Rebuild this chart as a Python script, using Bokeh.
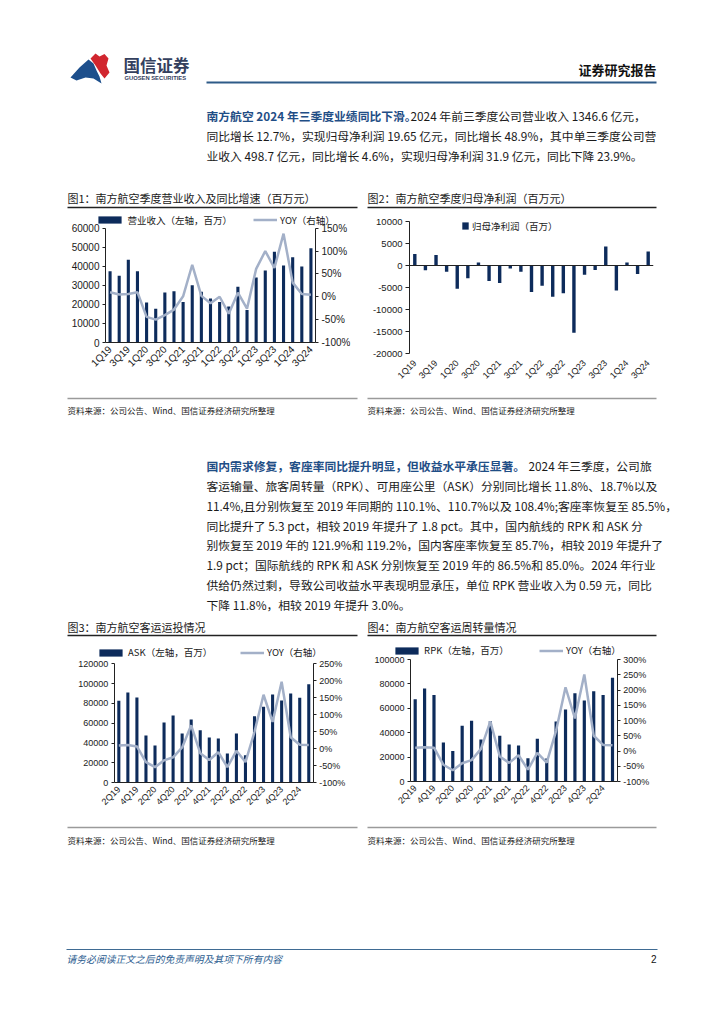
import math
from bokeh.plotting import figure
from bokeh.layouts import column, row
from bokeh.models import Range1d, LinearAxis, FixedTicker, PrintfTickFormatter, Legend, LegendItem, Span
from bokeh.core.properties import value
from bokeh.embed import file_html
from bokeh.resources import INLINE

# ---------------- data ----------------
quarters_a = ["1Q19", "2Q19", "3Q19", "4Q19", "1Q20", "2Q20", "3Q20", "4Q20", "1Q21", "2Q21", "3Q21", "4Q21",
              "1Q22", "2Q22", "3Q22", "4Q22", "1Q23", "2Q23", "3Q23", "4Q23", "1Q24", "2Q24", "3Q24"]
revenue = [37400, 35100, 43500, 37400, 21000, 17700, 26200, 26900, 21200, 30100, 26700, 23100,
           21200, 18900, 29200, 17000, 34100, 37800, 47700, 40400, 44800, 39900, 49500]
revenue_yoy = [10, 5, 6, 10, -44, -50, -40, -28, 1, 70, 2, -14,
               0, -37, 9, -26, 61, 100, 63, 138, 31, 6, 4.6]
net_profit = [2600, -1100, 2400, -1400, -5300, -2900, 700, -3500, -4000, -700, -1400, -6000,
              -4600, -7100, -6300, -15300, -2100, -1000, 4300, -5700, 680, -1920, 3190]

quarters_b = ["2Q19", "3Q19", "4Q19", "1Q20", "2Q20", "3Q20", "4Q20", "1Q21", "2Q21", "3Q21", "4Q21",
              "1Q22", "2Q22", "3Q22", "4Q22", "1Q23", "2Q23", "3Q23", "4Q23", "1Q24", "2Q24", "3Q24"]
ask = [82700, 91100, 86100, 47700, 37600, 60800, 67900, 49700, 63900, 53100, 45700,
       44700, 29600, 49700, 27900, 67200, 76600, 89100, 83000, 90100, 85700, 99500]
ask_yoy = [10, 11, 7, -39, -54, -34, -25, 4, 69, -13, -33,
           -10, -54, -6, -39, 50, 159, 79, 197, 34, 12, 11.4]
rpk = [67500, 76200, 71000, 32000, 25100, 45600, 49700, 34400, 49500, 37400, 30300,
       29500, 19100, 35000, 18900, 49200, 59000, 72400, 66400, 74000, 71000, 85000]
rpk_yoy = [11, 12, 11, -45, -63, -40, -30, 7, 97, -18, -39,
           -14, -61, -6, -38, 67, 209, 107, 251, 50, 20, 18.7]

# ---------------- styles ----------------
NAVY = "#0d2b5b"
LINE = "#a3b0c8"
CJK = "Noto Sans CJK SC"
NUM = "Liberation Sans"
INK = "#1a1a1a"


def style_axis(ax, size):
    ax.major_label_text_font = NUM
    ax.major_label_text_font_size = size
    ax.major_label_text_color = INK
    ax.axis_line_color = "#222222"
    ax.major_tick_line_color = "#222222"
    ax.minor_tick_line_color = None
    ax.major_tick_in = 0
    ax.major_tick_out = 3
    ax.major_label_standoff = 3


def make_legend(items, x, y, gw, gh, standoff):
    lg = Legend(items=items, location=(x, y), orientation="horizontal")
    lg.border_line_color = None
    lg.background_fill_alpha = 0
    lg.padding = 0
    lg.margin = 0
    lg.spacing = 0
    lg.glyph_width = gw
    lg.glyph_height = gh
    lg.label_height = 10
    lg.label_standoff = standoff
    lg.label_text_font = CJK
    lg.label_text_font_size = "9.5px"
    lg.label_text_color = INK
    return lg


def extend(vmin, vmax, frame_h, pad):
    # range end so that vmax sits `pad` pixels below the frame top
    return vmin + (vmax - vmin) * frame_h / (frame_h - pad)


def fit_range(vmin, vmax, ax_top, ax_bot, fr_top, fr_bot):
    # value range of a frame [fr_top, fr_bot] (px) whose ticks vmax/vmin sit at ax_top/ax_bot (px)
    u = (vmax - vmin) / (ax_bot - ax_top)
    return Range1d(vmin - (fr_bot - ax_bot) * u, vmax + (ax_top - fr_top) * u)


def base_fig(W, H, bl, br, bb, x_range, y_range):
    p = figure(width=W, height=H, x_range=x_range, y_range=y_range,
               output_backend="svg", toolbar_location=None,
               min_border_left=bl, min_border_right=br, min_border_top=0, min_border_bottom=bb)
    p.frame_align = False
    p.grid.visible = False
    p.outline_line_color = None
    return p


def combo_chart(cats, bars, yoy, bar_label, left_max, left_step, r_min, r_max, r_step,
                fig_x0, fig_y0, W, H, FL, FR, AL, AR, AT, AB, fs, leg_cy, leg1_px, leg2_px):
    """Page px: FL/FR frame edges, AL/AR value-axis x, AT/AB top/bottom tick y."""
    n = len(cats)
    xs = list(range(n))
    bb = 2
    fr_top, fr_bot = fig_y0, fig_y0 + H - bb
    k = n / (AR - AL)
    x0 = -0.5 - (AL - FL) * k
    x1 = n - 0.5 + (FR - AR) * k
    p = base_fig(W, H, FL - fig_x0, fig_x0 + W - FR, bb, Range1d(x0, x1),
                 fit_range(0, left_max, AT, AB, fr_top, fr_bot))
    p.extra_y_ranges = {"yoy": fit_range(r_min, r_max, AT, AB, fr_top, fr_bot)}
    r_bar = p.vbar(x=xs, top=bars, bottom=0, width=0.34, fill_color=NAVY, line_color=None)
    r_line = p.line(x=xs, y=yoy, y_range_name="yoy", line_color=LINE, line_width=2.5)

    p.xaxis.ticker = FixedTicker(ticks=list(range(0, n, 2)))
    p.xaxis.major_label_overrides = {i: cats[i] for i in range(0, n, 2)}
    p.xaxis.major_label_orientation = math.pi / 4
    p.xaxis.bounds = (-0.5, n - 0.5)
    p.xaxis.fixed_location = 0
    style_axis(p.xaxis[0], fs)
    p.xaxis.major_tick_line_color = None
    p.xaxis.major_label_standoff = 2

    p.yaxis.ticker = FixedTicker(ticks=list(range(0, left_max + 1, left_step)))
    p.yaxis.formatter = PrintfTickFormatter(format="%d")
    p.yaxis.bounds = (0, left_max)
    p.yaxis.fixed_location = -0.5
    style_axis(p.yaxis[0], fs)

    rax = LinearAxis(y_range_name="yoy", ticker=FixedTicker(ticks=list(range(r_min, r_max + 1, r_step))),
                     formatter=PrintfTickFormatter(format="%d%%"), bounds=(r_min, r_max),
                     fixed_location=n - 0.5)
    style_axis(rax, fs)
    p.add_layout(rax, "right")

    # legend positions: page px of swatch start / row centre -> frame-relative
    leg_y = fr_bot - leg_cy - 6.5
    p.add_layout(make_legend([LegendItem(label=bar_label, renderers=[r_bar])],
                             leg1_px - 2.9 - FL, leg_y, 29, 9, 3))
    p.add_layout(make_legend([LegendItem(label="YOY（右轴）", renderers=[r_line])],
                             leg2_px - FL, leg_y, 24, 9, 3))
    return p


def profit_chart():
    n = len(quarters_a)
    xs = list(range(n))
    H, bb, pad = 183, 42, 9
    fh = H - bb
    p = base_fig(354, H, 47, 63, bb, Range1d(-0.5, n - 0.5),
                 Range1d(-20000, extend(-20000, 10000, fh, pad)))
    r_bar = p.vbar(x=xs, top=net_profit, bottom=0, width=0.32, fill_color=NAVY, line_color=None)
    p.add_layout(Span(location=0, dimension="width", line_color="#222222", line_width=1))
    p.xaxis.ticker = FixedTicker(ticks=list(range(0, n, 2)))
    p.xaxis.major_label_overrides = {i: quarters_a[i] for i in range(0, n, 2)}
    p.xaxis.major_label_orientation = math.pi / 4
    style_axis(p.xaxis[0], "9px")
    p.xaxis.axis_line_color = None
    p.xaxis.major_tick_line_color = None
    p.xaxis.major_label_standoff = 5
    p.yaxis.ticker = FixedTicker(ticks=list(range(-20000, 10001, 5000)))
    p.yaxis.formatter = PrintfTickFormatter(format="%d")
    p.yaxis.bounds = (-20000, 10000)
    style_axis(p.yaxis[0], "9.5px")
    p.yaxis.major_tick_out = 4
    p.add_layout(make_legend([LegendItem(label="归母净利润（百万）", renderers=[r_bar])], 52, 120.5, 8, 9, 3))
    return p


# ---------------- page strips (page pixel coordinates) ----------------
def strip(y0, y1):
    p = figure(width=716, height=y1 - y0, x_range=Range1d(0, 716), y_range=Range1d(y1, y0),
               x_axis_type=None, y_axis_type=None, output_backend="svg", toolbar_location=None,
               min_border=0)
    p.frame_align = False
    p.grid.visible = False
    p.outline_line_color = None
    return p


def txt(p, x, y, s, size, color=INK, bold=False, italic=False, align="left", font=CJK):
    p.text(x=[x], y=[y], text=[s], text_font=value(font), text_font_size=size, text_color=color,
           text_font_style=("bold" if bold else ("italic" if italic else "normal")),
           text_align=align, text_baseline="middle")


def hline(p, x0, x1, y, color, w):
    p.segment(x0=[x0], y0=[y], x1=[x1], y1=[y], line_color=color, line_width=w)


PARA_X = 206
PARA_FS = "11.8px"
BLUE_BOLD = "#1f4e86"

para1 = [
    ("南方航空 2024 年三季度业绩同比下滑。", "2024 年前三季度公司营业收入 1346.6 亿元，"),
    ("", "同比增长 12.7%，实现归母净利润 19.65 亿元，同比增长 48.9%，其中单三季度公司营"),
    ("", "业收入 498.7 亿元，同比增长 4.6%，实现归母净利润 31.9 亿元，同比下降 23.9%。"),
]
para2 = [
    ("国内需求修复，客座率同比提升明显，但收益水平承压显著。", "2024 年三季度，公司旅"),
    ("", "客运输量、旅客周转量（RPK）、可用座公里（ASK）分别同比增长 11.8%、18.7%以及"),
    ("", "11.4%,且分别恢复至 2019 年同期的 110.1%、110.7%以及 108.4%;客座率恢复至 85.5%，"),
    ("", "同比提升了 5.3 pct，相较 2019 年提升了 1.8 pct。其中，国内航线的 RPK 和 ASK 分"),
    ("", "别恢复至 2019 年的 121.9%和 119.2%，国内客座率恢复至 85.7%，相较 2019 年提升了"),
    ("", "1.9 pct；国际航线的 RPK 和 ASK 分别恢复至 2019 年的 86.5%和 85.0%。2024 年行业"),
    ("", "供给仍然过剩，导致公司收益水平表现明显承压，单位 RPK 营业收入为 0.59 元，同比"),
    ("", "下降 11.8%，相较 2019 年提升 3.0%。"),
]
SOURCE = "资料来源：公司公告、Wind、国信证券经济研究所整理"

logo_red_x = [90, 95, 99, 104, 108, 106, 109, 104, 100, 95]
logo_red_y = [58, 53, 56, 53.5, 58, 65, 72, 78, 73, 65]
logo_blue_x = [70, 79, 88, 93, 96, 99, 101, 93, 85, 76]
logo_blue_y = [77, 67, 59, 63, 70, 76, 83, 78, 77, 80]


def write_para(p, lines, y0, dy, bold_end):
    for i, (b, r) in enumerate(lines):
        y = y0 + i * dy
        if b:
            txt(p, PARA_X, y, b, PARA_FS, color=BLUE_BOLD, bold=True)
            txt(p, bold_end, y, r, PARA_FS)
        else:
            txt(p, PARA_X, y, r, PARA_FS)


# Strip A: header, paragraph 1, titles of fig 1/2
sA = strip(0, 212)
sA.patch(logo_blue_x, logo_blue_y, fill_color="#1d4f8c", line_color=None)
sA.patch(logo_red_x, logo_red_y, fill_color="#d1262f", line_color=None)
txt(sA, 123, 64, "国信证券", "16.5px", color="#34405e", bold=True)
txt(sA, 124, 77.5, "GUOSEN SECURITIES", "5.8px", color="#34405e", bold=True, font=NUM)
txt(sA, 656, 69, "证券研究报告", "13px", color="#111111", bold=True, align="right")
hline(sA, PARA_X, 656, 82, "#2e5b88", 2)
write_para(sA, para1, 115, 20, 410)
txt(sA, 67, 197, "图1：南方航空季度营业收入及同比增速（百万元）", "11px")
txt(sA, 367, 197, "图2：南方航空季度归母净利润（百万元）", "11px")
hline(sA, 67, 357, 207, "#222222", 1.3)
hline(sA, 367, 656, 207, "#222222", 1.3)

# Row B: charts 1 and 2
c1 = combo_chart(quarters_a, revenue, revenue_yoy, "营业收入（左轴，百万）", 60000, 10000, -100, 150, 50,
                 0, 212, 362, 183, 62, 350, 105, 315, 227.7, 342, "10px", 220, 98.3, 253)
c2 = profit_chart()

# Strip C: sources, paragraph 2, titles of fig 3/4
sC = strip(395, 643)
hline(sC, 67, 357, 398, "#9a9a9a", 1.5)
hline(sC, 367, 656, 398, "#9a9a9a", 1.5)
txt(sC, 67, 409, SOURCE, "8.5px")
txt(sC, 367, 409, SOURCE, "8.5px")
write_para(sC, para2, 465, 19.85, 528)
txt(sC, 67, 626, "图3：南方航空客运运投情况", "11px")
txt(sC, 367, 626, "图4：南方航空客运周转量情况", "11px")
hline(sC, 67, 357, 635, "#222222", 1.3)
hline(sC, 367, 656, 635, "#222222", 1.3)

# Row D: charts 3 and 4
c3 = combo_chart(quarters_b, ask, ask_yoy, "ASK（左轴，百万）", 120000, 20000, -100, 250, 50,
                 0, 643, 362, 182, 70, 350, 113.8, 312.8, 663.3, 782.3, "9px", 652.7, 99, 240)
c4 = combo_chart(quarters_b, rpk, rpk_yoy, "RPK（左轴，百万）", 100000, 20000, -100, 300, 50,
                 362, 643, 354, 182, 370, 660, 410, 616.7, 659, 781, "9px", 650.7, 395, 539)

# Strip E: sources and footer
sE = strip(825, 1016)
hline(sE, 67, 357, 827, "#9a9a9a", 1.5)
hline(sE, 367, 656, 827, "#9a9a9a", 1.5)
txt(sE, 67, 839, SOURCE, "8.5px")
txt(sE, 367, 839, SOURCE, "8.5px")
hline(sE, 66, 657, 949, "#3f6b93", 1)
txt(sE, 66, 958, "请务必阅读正文之后的免责声明及其项下所有内容", "9.8px", color="#2b5c8f", italic=True)
txt(sE, 656, 958, "2", "10px", color="#111111", align="right", font=NUM)

layout = column(sA, row(c1, c2), sC, row(c3, c4), sE)
open("out.html", "w").write(file_html(layout, INLINE))
